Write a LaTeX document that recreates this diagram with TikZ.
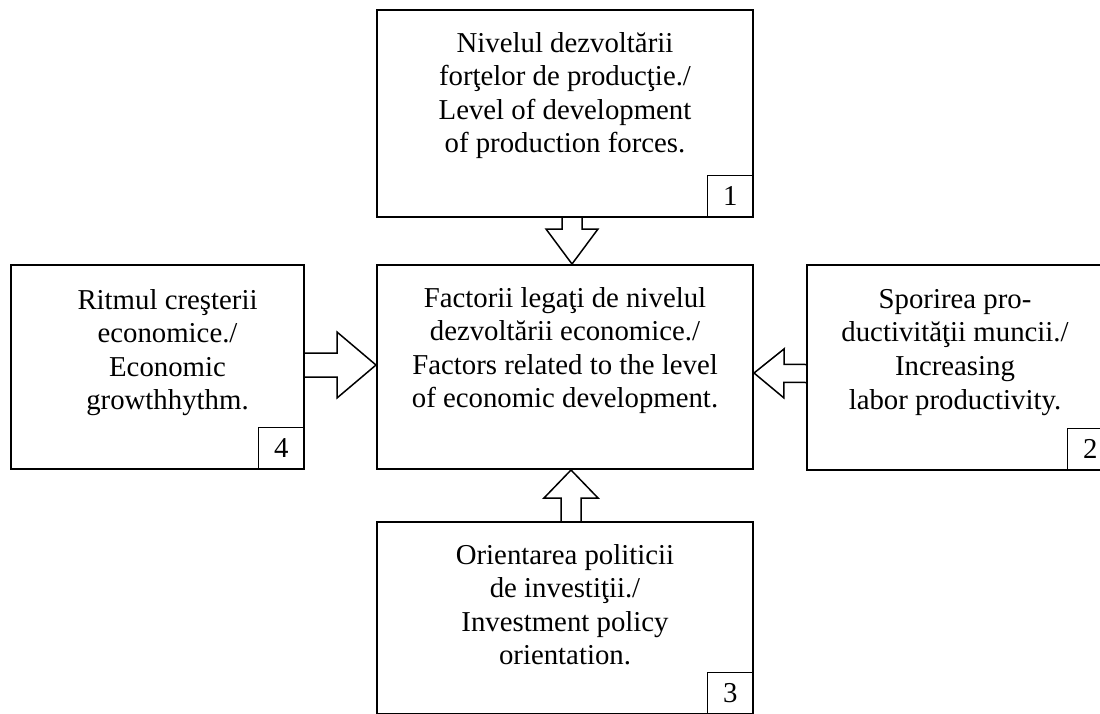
\documentclass[tikz,border=0pt]{standalone}
\usepackage{fontspec}
\setmainfont{Liberation Serif}
\usetikzlibrary{positioning, calc}

\tikzset{
  factor/.style={draw, line width=2pt, inner sep=0pt},
  factortext/.style={align=center, inner sep=0pt, font=\fontsize{28.8}{33.6}\selectfont},
  numbox/.style={draw, line width=1.5pt, minimum width=46pt, minimum height=42pt, inner sep=0pt, anchor=south east, font=\fontsize{28.8}{33.6}\selectfont},
  arrowline/.style={draw, line width=1.5pt, line join=miter}
}

% #1 base, #2 tip, #3 half shaft, #4 half head, #5 head length
\newcommand{\blockarrow}[5]{%
  \coordinate (bh) at ($(#2)!#5!(#1)$);
  \draw[arrowline] ($(#1)!#3!90:(#2)$) -- ($(bh)!#3!90:(#2)$) -- ($(bh)!#4!90:(#2)$) -- (#2)
    -- ($(bh)!#4!-90:(#2)$) -- ($(bh)!#3!-90:(#2)$) -- ($(#1)!#3!-90:(#2)$);
}

\begin{document}
\begin{tikzpicture}[x=1pt, y=-1pt]
    \useasboundingbox (0,0) rectangle (1100,713);
    \clip (0,0) rectangle (1100,713);
    \node[factor, minimum width=376pt, minimum height=207pt] (prod) at (565,113.5) {};
    \node[factor, minimum width=376pt, minimum height=204pt] (core) at (565,367) {};
    \node[factor, minimum width=293pt, minimum height=204pt] (rate) at (157.5,367) {};
    \node[factor, minimum width=306pt, minimum height=205pt] (labor) at (960,367.5) {};
    \node[factor, minimum width=376pt, minimum height=192pt] (invest) at (565,618) {};
    \node[factortext, below=23pt of prod.north] (prodtext) {Nivelul dezvoltării\\forţelor de producţie./\\Level of development\\of production forces.};
    \node[factortext, below=23pt of core.north] (coretext) {Factorii legaţi de nivelul\\dezvoltării economice./\\Factors related to the level\\of economic development.};
    \node[factortext, below=25pt of {[xshift=10pt]rate.north}] (ratetext) {Ritmul creşterii\\economice./\\Economic\\growthhythm.};
    \node[factortext, below=25pt of {[xshift=-5pt]labor.north}] (labortext) {Sporirea pro-\\ductivităţii muncii./\\Increasing\\labor productivity.};
    \node[factortext, below=23pt of invest.north] (investtext) {Orientarea politicii\\de investiţii./\\Investment policy\\orientation.};
    \node[numbox] (n1) at (prod.south east) {1};
    \node[numbox] (n2) at (labor.south east) {2};
    \node[numbox] (n3) at (invest.south east) {3};
    \node[numbox] (n4) at (rate.south east) {4};
    \blockarrow{[xshift=7pt]prod.south}{[xshift=7pt]core.north}{10pt}{26pt}{35pt}
    \blockarrow{[yshift=2pt]rate.east}{[yshift=2pt]core.west}{12pt}{33pt}{39pt}
    \blockarrow{[yshift=-6pt]labor.west}{[yshift=-6pt]core.east}{9pt}{24.5pt}{30pt}
    \blockarrow{[xshift=6pt]invest.north}{[xshift=6pt]core.south}{10pt}{27pt}{28pt}
\end{tikzpicture}
\end{document}
